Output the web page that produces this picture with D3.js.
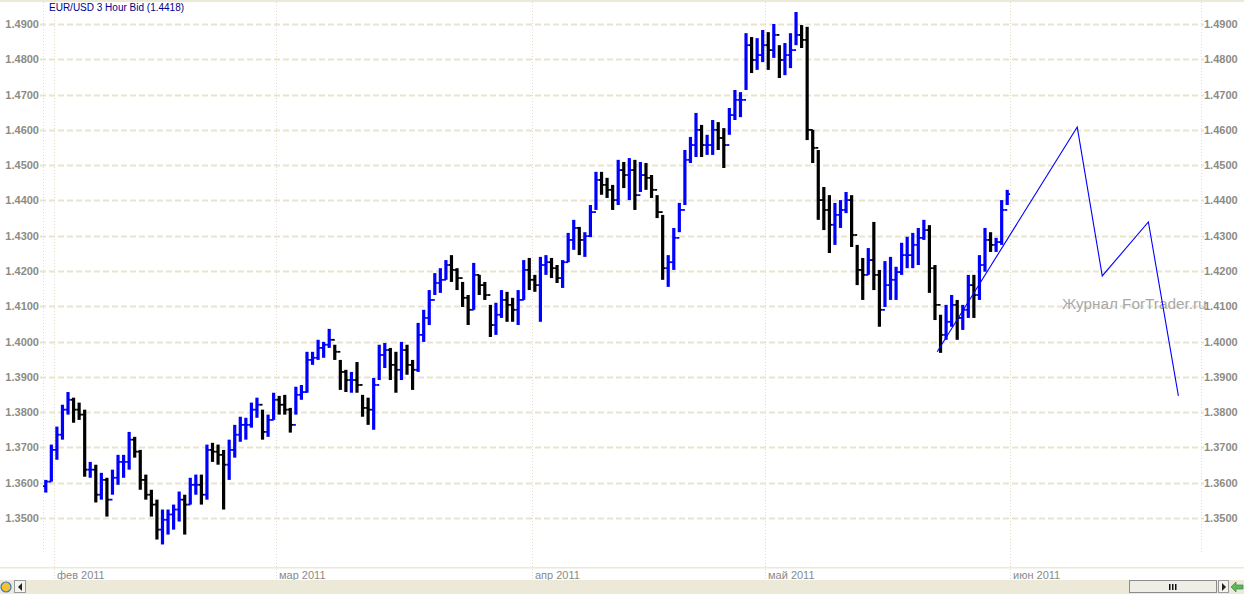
<!DOCTYPE html>
<html><head><meta charset="utf-8">
<script src="https://cdn.jsdelivr.net/npm/d3@7/dist/d3.min.js"></script>
<style>
html,body{margin:0;padding:0;background:#fff;overflow:hidden}
svg{display:block}
</style></head>
<body>
<svg id="c" width="1244" height="594"></svg>
<script>
// ---- data: EUR/USD half-day bars, 31 Jan – 31 May 2011 ----
const firstOpen = 1.3590;
const highs = [
1.3608,1.3708,1.3759,1.3821,1.3857,1.3841,1.3827,1.3807,1.3659,1.3651,
1.3628,1.3614,1.3637,1.3679,1.3679,1.3744,1.3730,1.3693,1.3623,1.3580,
1.3552,1.3524,1.3524,1.3538,1.3575,1.3566,1.3614,1.3623,1.3623,1.3708,
1.3713,1.3708,1.3693,1.3722,1.3764,1.3787,1.3784,1.3827,1.3841,1.3807,
1.3793,1.3855,1.3846,1.3849,1.3812,1.3872,1.3877,1.3971,1.3971,1.4005,
1.3999,1.4036,1.3991,1.3948,1.3920,1.3914,1.3942,1.3849,1.3841,1.3897,
1.3991,1.3996,1.3982,1.3971,1.3999,1.3991,1.3948,1.4053,1.4090,1.4146,
1.4194,1.4208,1.4231,1.4245,1.4208,1.4169,1.4132,1.4223,1.4189,1.4169,
1.4104,1.4110,1.4146,1.4141,1.4124,1.4146,1.4231,1.4237,1.4189,1.4240,
1.4245,1.4237,1.4217,1.4231,1.4308,1.4345,1.4325,1.4310,1.4387,1.4481,
1.4481,1.4464,1.4444,1.4515,1.4509,1.4520,1.4515,1.4509,1.4506,1.4472,
1.4415,1.4359,1.4245,1.4322,1.4393,1.4543,1.4580,1.4648,1.4614,1.4586,
1.4628,1.4622,1.4605,1.4662,1.4713,1.4707,1.4874,1.4863,1.4860,1.4883,
1.4877,1.4900,1.4840,1.4846,1.4874,1.4934,1.4897,1.4892,1.4600,1.4543,
1.4438,1.4415,1.4393,1.4401,1.4424,1.4415,1.4274,1.4237,1.4265,1.4339,
1.4203,1.4228,1.4240,1.4212,1.4280,1.4297,1.4308,1.4322,1.4345,1.4330,
1.4217,1.4076,1.4104,1.4132,1.4118,1.4104,1.4189,1.4189,1.4245,1.4322,
1.4310,1.4294,1.4401,1.4430];
const lows = [
1.3572,1.3603,1.3665,1.3722,1.3793,1.3770,1.3778,1.3617,1.3614,1.3544,
1.3552,1.3504,1.3566,1.3594,1.3614,1.3637,1.3671,1.3580,1.3552,1.3504,
1.3439,1.3425,1.3453,1.3467,1.3490,1.3453,1.3538,1.3566,1.3538,1.3552,
1.3659,1.3651,1.3524,1.3608,1.3671,1.3716,1.3722,1.3756,1.3784,1.3722,
1.3730,1.3778,1.3793,1.3793,1.3742,1.3793,1.3835,1.3855,1.3934,1.3948,
1.3954,1.3982,1.3948,1.3863,1.3857,1.3855,1.3855,1.3787,1.3764,1.3750,
1.3891,1.3925,1.3891,1.3855,1.3891,1.3906,1.3863,1.3914,1.3999,1.4047,
1.4132,1.4138,1.4175,1.4169,1.4146,1.4098,1.4047,1.4090,1.4132,1.4118,
1.4013,1.4019,1.4067,1.4056,1.4056,1.4047,1.4118,1.4146,1.4141,1.4056,
1.4189,1.4180,1.4166,1.4152,1.4225,1.4260,1.4245,1.4240,1.4296,1.4373,
1.4416,1.4407,1.4373,1.4387,1.4435,1.4401,1.4373,1.4424,1.4430,1.4407,
1.4350,1.4175,1.4155,1.4203,1.4310,1.4387,1.4506,1.4523,1.4523,1.4529,
1.4529,1.4543,1.4492,1.4586,1.4628,1.4636,1.4713,1.4761,1.4770,1.4792,
1.4770,1.4804,1.4747,1.4755,1.4775,1.4840,1.4832,1.4571,1.4506,1.4345,
1.4316,1.4251,1.4274,1.4322,1.4364,1.4268,1.4160,1.4118,1.4189,1.4146,
1.4042,1.4098,1.4118,1.4118,1.4189,1.4208,1.4208,1.4217,1.4288,1.4138,
1.4061,1.3968,1.4005,1.4042,1.4005,1.4033,1.4067,1.4067,1.4118,1.4198,
1.4254,1.4254,1.4274,1.4387];
const closes = [
1.3603,1.3693,1.3736,1.3807,1.3835,1.3807,1.3793,1.3637,1.3637,1.3566,
1.3608,1.3552,1.3614,1.3659,1.3659,1.3722,1.3688,1.3608,1.3566,1.3538,
1.3467,1.3495,1.3510,1.3524,1.3552,1.3538,1.3594,1.3594,1.3566,1.3693,
1.3688,1.3679,1.3651,1.3693,1.3736,1.3764,1.3764,1.3807,1.3821,1.3744,
1.3778,1.3835,1.3821,1.3807,1.3764,1.3849,1.3857,1.3948,1.3954,1.3982,
1.3991,1.4005,1.3971,1.3914,1.3891,1.3891,1.3877,1.3812,1.3807,1.3877,
1.3962,1.3976,1.3934,1.3920,1.3976,1.3934,1.3920,1.4019,1.4067,1.4118,
1.4166,1.4175,1.4217,1.4203,1.4180,1.4124,1.4090,1.4189,1.4160,1.4132,
1.4047,1.4076,1.4118,1.4104,1.4090,1.4118,1.4203,1.4175,1.4160,1.4217,
1.4225,1.4208,1.4180,1.4225,1.4288,1.4322,1.4288,1.4299,1.4367,1.4458,
1.4444,1.4430,1.4401,1.4486,1.4472,1.4486,1.4415,1.4472,1.4464,1.4430,
1.4367,1.4208,1.4225,1.4294,1.4373,1.4515,1.4557,1.4600,1.4557,1.4557,
1.4600,1.4577,1.4557,1.4642,1.4685,1.4685,1.4840,1.4798,1.4812,1.4840,
1.4826,1.4869,1.4798,1.4812,1.4826,1.4869,1.4855,1.4600,1.4549,1.4401,
1.4373,1.4331,1.4359,1.4373,1.4401,1.4302,1.4203,1.4189,1.4231,1.4189,
1.4090,1.4160,1.4175,1.4197,1.4245,1.4245,1.4274,1.4294,1.4316,1.4208,
1.4104,1.4019,1.4056,1.4104,1.4067,1.4090,1.4160,1.4132,1.4217,1.4288,
1.4274,1.4282,1.4373,1.4418];

// month tick labels and the bar index where each month starts
const monthLabels = ["фев 2011","мар 2011","апр 2011","май 2011","июн 2011"];
const monthStartBars = [2, 42, 88, 130, 174];

// price axis ticks
const priceTicks = [1.35,1.36,1.37,1.38,1.39,1.40,1.41,1.42,1.43,1.44,1.45,1.46,1.47,1.48,1.49];

// hand-drawn forecast line (bar position, price)
const forecastBars   = [160.9, 186.1, 190.6, 198.9, 204.3];
const forecastPrices = [1.3971, 1.4608, 1.4186, 1.4339, 1.3846];

const symbolTitle = "EUR/USD 3 Hour Bid";
const watermark = "Журнал ForTrader.ru";

// ---- drawing ----
const W = 1244, H = 594;
const svg = d3.select("#c");
const x = d3.scaleLinear().domain([0, 174]).range([43, 1010]);
const y = d3.scaleLinear().domain([1.35, 1.49]).range([518, 24]);
const plotL = 43, plotR = 1201, plotB = 552;
const FONT = "'Liberation Sans', Arial, sans-serif";

// top border
svg.append("rect").attr("x",0).attr("y",0).attr("width",W).attr("height",2).attr("fill","#ece9d8");

// horizontal dashed grid
svg.append("g").selectAll("line").data(priceTicks).join("line")
  .attr("x1", 40).attr("x2", 1204)
  .attr("y1", d => Math.round(y(d)) + 0.5).attr("y2", d => Math.round(y(d)) + 0.5)
  .attr("stroke", "#e9e4d0").attr("stroke-width", 2).attr("stroke-dasharray", "6,3");

// axis border dotted lines
[plotL, plotR].forEach(px => {
  svg.append("line").attr("x1", px+0.5).attr("x2", px+0.5).attr("y1", 2).attr("y2", plotB)
    .attr("stroke", "#e2ddc8").attr("stroke-width", 1).attr("stroke-dasharray", "1,2");
});
// month dotted lines
svg.append("g").selectAll("line").data(monthStartBars).join("line")
  .attr("x1", d => Math.round(x(d)) + 0.5).attr("x2", d => Math.round(x(d)) + 0.5)
  .attr("y1", 2).attr("y2", 580)
  .attr("stroke", "#e2ddc8").attr("stroke-width", 1).attr("stroke-dasharray", "1,2");

// bottom border line
svg.append("rect").attr("x",0).attr("y",567).attr("width",W).attr("height",1.5).attr("fill","#ece9d8");

// month labels
svg.append("g").selectAll("text").data(monthStartBars).join("text")
  .attr("x", d => Math.round(x(d)) + 3).attr("y", 579)
  .attr("font-family", FONT).attr("font-size", 11).attr("fill", "#8a8a8a")
  .text((d,i) => monthLabels[i]);

// watermark
svg.append("text").attr("x", 1062).attr("y", 309)
  .attr("font-family", FONT).attr("font-size", 15.3).attr("fill", "#a9a9a9")
  .text(watermark);

// bars
const bars = highs.map((h,i) => ({
  i, h, l: lows[i], c: closes[i], o: i === 0 ? firstOpen : closes[i-1]
}));
const gb = svg.append("g");
bars.forEach(b => {
  const cx = x(b.i + 0.5);
  const col = b.c >= b.o ? "#0000ff" : "#000000";
  gb.append("line").attr("x1", cx).attr("x2", cx)
    .attr("y1", y(b.h)).attr("y2", y(b.l))
    .attr("stroke", col).attr("stroke-width", 3.2);
  gb.append("line").attr("x1", cx - 2.8).attr("x2", cx)
    .attr("y1", y(b.o)).attr("y2", y(b.o)).attr("stroke", col).attr("stroke-width", 1.8);
  gb.append("line").attr("x1", cx).attr("x2", cx + 2.8)
    .attr("y1", y(b.c)).attr("y2", y(b.c)).attr("stroke", col).attr("stroke-width", 1.8);
});

// forecast line
const fc = forecastBars.map((b,i) => [x(b), y(forecastPrices[i])]);
svg.append("path").attr("d", d3.line()(fc))
  .attr("fill","none").attr("stroke","#0000ff").attr("stroke-width",1.1);

// price labels
const fmt = d3.format(".4f");
svg.append("g").selectAll("text").data(priceTicks).join("text")
  .attr("x", 39).attr("y", d => y(d)).attr("dy", "0.36em").attr("text-anchor","end")
  .attr("font-family", FONT).attr("font-size", 11).attr("font-weight", "bold").attr("fill", "#8c8c84")
  .text(fmt);
svg.append("g").selectAll("text").data(priceTicks).join("text")
  .attr("x", 1204).attr("y", d => y(d)).attr("dy", "0.36em").attr("text-anchor","start")
  .attr("font-family", FONT).attr("font-size", 11).attr("font-weight", "bold").attr("fill", "#8c8c84")
  .text(fmt);

// title
svg.append("text").attr("x", 49).attr("y", 11)
  .attr("font-family", FONT).attr("font-size", 10).attr("fill", "#00008b")
  .text(`${symbolTitle} (${fmt(closes[closes.length-1])})`);

// scrollbar strip
const sb = svg.append("g");
sb.append("rect").attr("x",0).attr("y",580).attr("width",W).attr("height",14).attr("fill","#ece9d8");
// left icon
sb.append("circle").attr("cx",6).attr("cy",587).attr("r",5).attr("fill","#f2c230").attr("stroke","#3a78c8").attr("stroke-width",1.2);
sb.append("rect").attr("x",14.5).attr("y",580.5).attr("width",11).attr("height",12).attr("fill","#f4f3ee").attr("stroke","#9a9a9a");
sb.append("path").attr("d","M18,587 L22,583 L22,591 Z").attr("fill","#222");
// thumb
sb.append("rect").attr("x",1129.5).attr("y",580.5).attr("width",87).attr("height",12).attr("fill","#eeede6").attr("stroke","#8c8c8c");
[1169,1172,1175].forEach(gx => sb.append("rect").attr("x",gx).attr("y",584).attr("width",1.5).attr("height",6).attr("fill","#111"));
sb.append("rect").attr("x",1218.5).attr("y",580.5).attr("width",10).attr("height",12).attr("fill","#f4f3ee").attr("stroke","#9a9a9a");
sb.append("path").attr("d","M1222,583 L1226,587 L1222,591 Z").attr("fill","#222");
// green arrow
sb.append("path").attr("d","M1231,587 L1236,582 L1236,585 L1243,585 L1243,589 L1236,589 L1236,592 Z")
  .attr("fill","#5cb85c").attr("stroke","#2e7d32").attr("stroke-width",0.6);
</script>
</body></html>
